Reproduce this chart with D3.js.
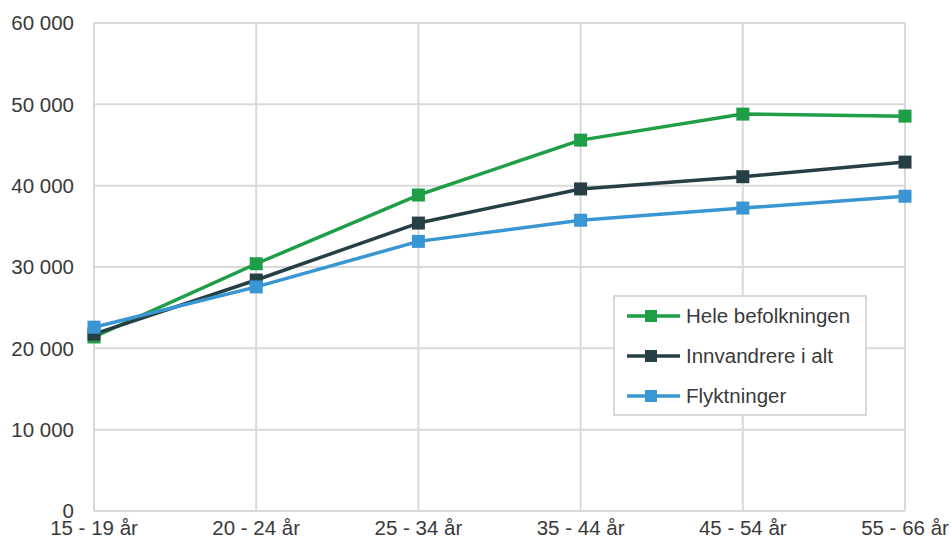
<!DOCTYPE html>
<html><head><meta charset="utf-8">
<script src="https://cdn.jsdelivr.net/npm/d3@7"></script>
<style>body{margin:0;background:#fff}svg{display:block}</style>
</head><body>
<svg id="c" width="951" height="537"></svg>
<script>
const categories = ["15 - 19 år","20 - 24 år","25 - 34 år","35 - 44 år","45 - 54 år","55 - 66 år"];
const seriesNames = ["Hele befolkningen","Innvandrere i alt","Flyktninger"];
const hele = [21400, 30400, 38850, 45600, 48800, 48550];
const innvandrere = [21750, 28400, 35400, 39600, 41100, 42900];
const flyktninger = [22600, 27550, 33150, 35750, 37250, 38700];
const yTicks = [0,10000,20000,30000,40000,50000,60000];
const colors = ["#1f9e48","#263f45","#3a96d2"];

const svg = d3.select("#c");
const L=94, R=905, T=23, B=511;
const x = d3.scalePoint().domain(categories).range([L,R]);
const y = d3.scaleLinear().domain([0,60000]).range([B,T]);
const fmt = v => d3.format(",")(v).replace(/,/g," ");
const font = "'Liberation Sans', Arial, sans-serif";
const fs = 20.5, tc = "#3a3a3a";

// gridlines
svg.append("g").selectAll("line.h").data(yTicks).join("line")
  .attr("x1",L).attr("x2",R).attr("y1",d=>y(d)).attr("y2",d=>y(d))
  .attr("stroke","#d9d9d9").attr("stroke-width",2);
svg.append("g").selectAll("line.v").data(categories).join("line")
  .attr("y1",T).attr("y2",B).attr("x1",d=>x(d)).attr("x2",d=>x(d))
  .attr("stroke","#d9d9d9").attr("stroke-width",2);

// y axis labels
svg.append("g").selectAll("text").data(yTicks).join("text")
  .attr("x",74).attr("y",d=>y(d)).attr("dy","0.35em").attr("text-anchor","end")
  .attr("font-family",font).attr("font-size",fs).attr("fill",tc)
  .text(d=>fmt(d));
// x labels
svg.append("g").selectAll("text").data(categories).join("text")
  .attr("x",d=>x(d)).attr("y",535).attr("text-anchor","middle")
  .attr("font-family",font).attr("font-size",fs).attr("fill",tc)
  .text(d=>d);

const data = [hele, innvandrere, flyktninger];
const line = d3.line().x((d,i)=>x(categories[i])).y(d=>y(d));
const ms = 13;
data.forEach((s,k)=>{
  svg.append("path").datum(s).attr("d",line).attr("fill","none")
    .attr("stroke",colors[k]).attr("stroke-width",3.5).attr("stroke-linejoin","round");
  svg.append("g").selectAll("rect").data(s).join("rect")
    .attr("x",(d,i)=>x(categories[i])-ms/2).attr("y",d=>y(d)-ms/2)
    .attr("width",ms).attr("height",ms).attr("fill",colors[k]);
});

// legend
const lg = svg.append("g");
lg.append("rect").attr("x",614).attr("y",296).attr("width",252).attr("height",119)
  .attr("fill","#fff").attr("stroke","#d9d9d9").attr("stroke-width",2);
seriesNames.forEach((n,k)=>{
  const yy = 316 + k*40;
  lg.append("line").attr("x1",627).attr("x2",680).attr("y1",yy).attr("y2",yy)
    .attr("stroke",colors[k]).attr("stroke-width",3.5);
  lg.append("rect").attr("x",651-6).attr("y",yy-6).attr("width",12).attr("height",12).attr("fill",colors[k]);
  lg.append("text").attr("x",686).attr("y",yy).attr("dy","0.35em")
    .attr("font-family",font).attr("font-size",fs).attr("fill",tc).text(n);
});
</script>
</body></html>
